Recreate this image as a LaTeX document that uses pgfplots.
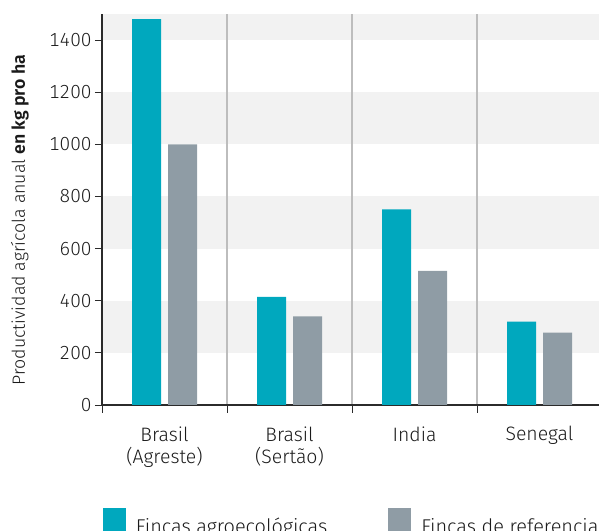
\documentclass[border=0pt]{standalone}
\usepackage{fontspec}
\setmainfont{Fira Sans}[UprightFont=* Light, BoldFont=* SemiBold]
\newfontfamily\tickfont{Fira Sans}[UprightFont=* Light, Numbers={Monospaced,Lining}]
\usepackage{pgfplots}
\pgfplotsset{compat=1.18}
\usetikzlibrary{calc}
\definecolor{tealA}{HTML}{00A8BE}
\definecolor{grayB}{HTML}{8F9CA5}
\definecolor{band}{HTML}{F2F2F2}
\definecolor{sepc}{HTML}{BDBDBD}
\definecolor{axc}{HTML}{2B2B2B}
\definecolor{txt}{HTML}{1A1A1A}

\pgfplotstableread{
x agro ref
0 1480 1000
1 415 340
2 750 515
3 320 278
}\datatable

\begin{document}
\begin{tikzpicture}
\pgfplotsset{set layers}
\begin{axis}[
  name=ax, at={(0,0)}, anchor=south west,
  scale only axis, width=497bp, height=391bp,
  xmin=-0.5, xmax=3.476, ymin=0, ymax=1500,
  axis lines*=left,
  axis line style={axc, line width=1.2bp},
  tick align=outside,
  ytick={0,200,...,1400},
  ytick style={axc, line width=1bp},
  major tick length=7bp,
  minor tick length=8bp,
  xtick={0,1,2,3},
  xticklabels={{Brasil\\(Agreste)},{Brasil\\(Sertão)},{India},{Senegal}},
  major x tick style={draw=none},
  minor xtick={-0.5,0.5,1.5,2.5},
  minor x tick style={axc, line width=1bp},
  xminorgrids,
  minor x grid style={sepc, line width=1.2bp},
  /pgf/number format/assume math mode=true,
  /pgf/number format/1000 sep={},
  yticklabel style={font=\tickfont\fontsize{19}{22}\selectfont, text=txt},
  xticklabel style={font=\fontsize{19.5}{22}\selectfont, text=txt, align=center, yshift=-11bp},
  ylabel={Productividad agrícola anual \textbf{en kg pro ha}},
  ylabel style={font=\fontsize{17.8}{20}\selectfont, text=txt, at={(axis description cs:-0.165,0.473)}, anchor=center},
  legend columns=2,
  legend style={draw=none, fill=none, inner sep=0pt, outer sep=0pt,
    at={(axis description cs:0.002,-0.2634)}, anchor=north west,
    font=\fontsize{20}{23}\selectfont, text=txt,
    cells={anchor=base west},
    nodes={inner sep=0pt},
    /tikz/every odd column/.append style={column sep=10bp},
    /tikz/every even column/.append style={column sep=61bp}},
]
\begin{pgfonlayer}{axis background}
\fill[band] (axis cs:-0.5,200) rectangle (axis cs:3.476,400);
\fill[band] (axis cs:-0.5,600) rectangle (axis cs:3.476,800);
\fill[band] (axis cs:-0.5,1000) rectangle (axis cs:3.476,1200);
\fill[band] (axis cs:-0.5,1400) rectangle (axis cs:3.476,1500);
\end{pgfonlayer}
\addplot[ybar, fill=tealA, draw=none, bar width=29bp, bar shift=-18bp,
  legend image code/.code={\fill[tealA] (0bp,2.8bp) rectangle (23bp,25.8bp);}]
  table[x=x, y=agro] {\datatable};
\addlegendentry{Fincas agroecológicas}
\addplot[ybar, fill=grayB, draw=none, bar width=29bp, bar shift=18bp,
  legend image code/.code={\fill[grayB] (0bp,2.8bp) rectangle (23bp,25.8bp);}]
  table[x=x, y=ref] {\datatable};
\addlegendentry{Fincas de referencia}
\end{axis}
\pgfresetboundingbox
\path[use as bounding box] ($(ax.south west)+(-102bp,-126bp)$) rectangle ($(ax.north east)+(0bp,14bp)$);
\end{tikzpicture}
\end{document}
